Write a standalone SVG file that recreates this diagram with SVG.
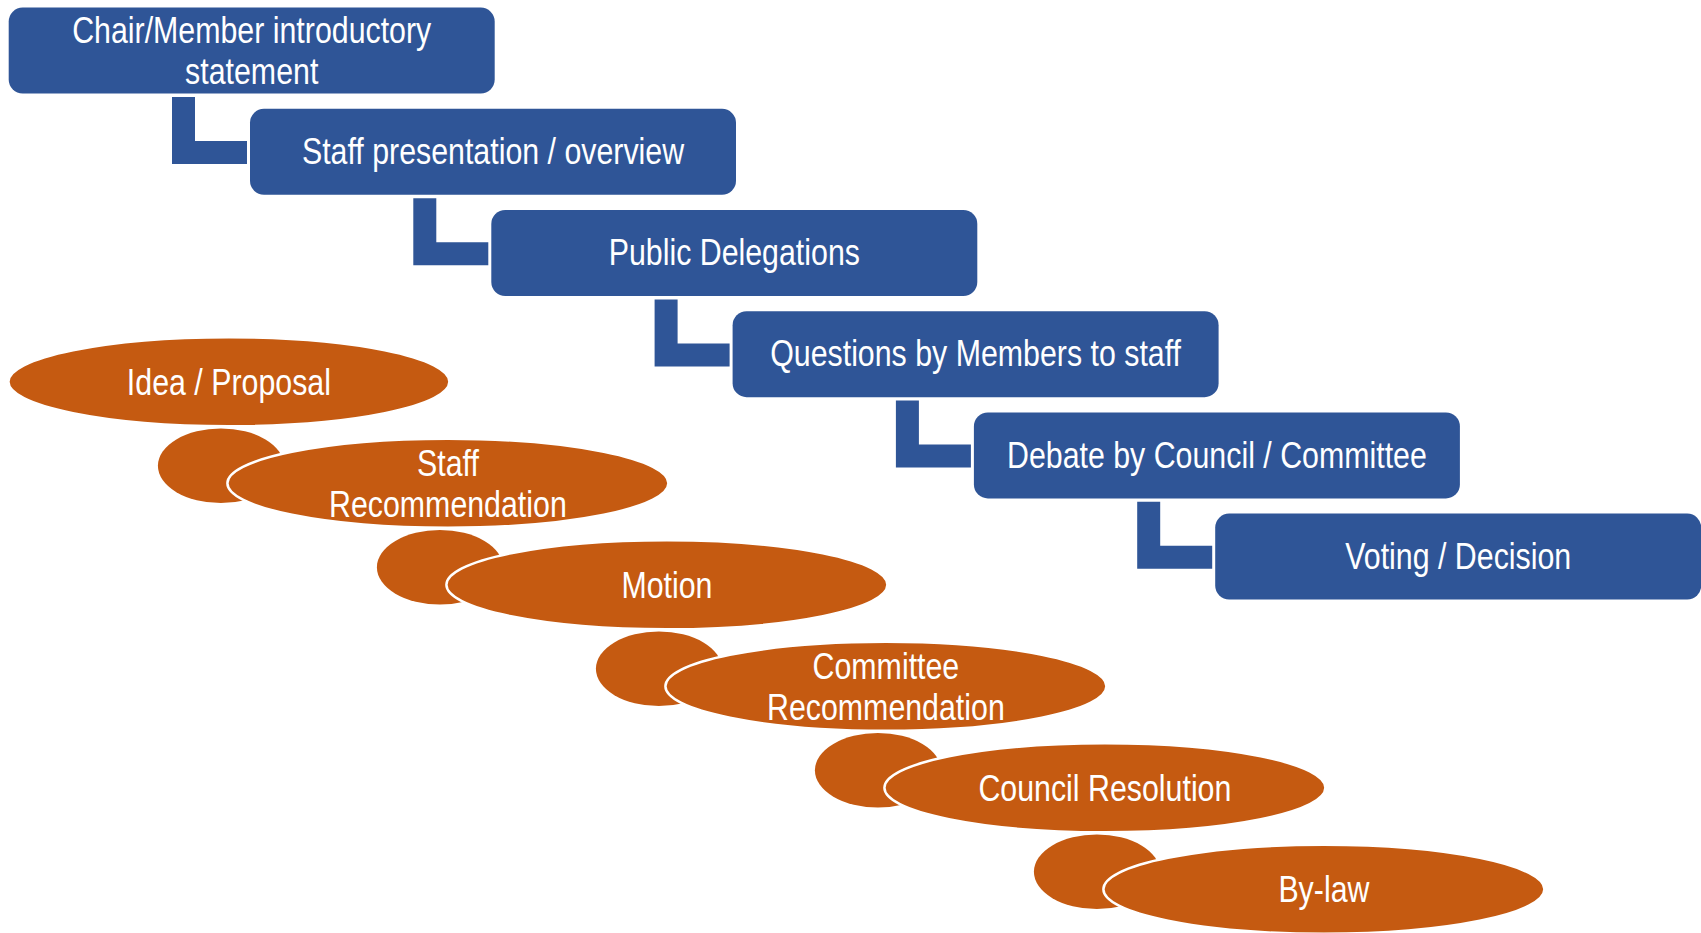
<svg xmlns="http://www.w3.org/2000/svg" width="1701" height="933" viewBox="0 0 1701 933">
<style>
.box{fill:#2F5597;}
.conn{fill:#2F5597;}
.ell{fill:#C55A11;stroke:#FFFFFF;stroke-width:2.5;}
.bub{fill:#C55A11;}
.t{font-family:"Liberation Sans",Arial,sans-serif;font-size:37px;fill:#FFFFFF;text-anchor:middle;}
</style>
<rect width="1701" height="933" fill="#FFFFFF"/>
<g id="connectors">
<path class="conn" d="M172,97 H195 V141 H247 V164 H172 Z"/>
<path class="conn" d="M413.3,198.2 H436.3 V242.2 H488.3 V265.2 H413.3 Z"/>
<path class="conn" d="M654.6,299.4 H677.6 V343.4 H729.6 V366.4 H654.6 Z"/>
<path class="conn" d="M895.9,400.6 H918.9 V444.6 H970.9 V467.6 H895.9 Z"/>
<path class="conn" d="M1137.2,501.8 H1160.2 V545.8 H1212.2 V568.8 H1137.2 Z"/>
</g>
<g id="box1"><rect class="box" x="8.7" y="7.6" width="486" height="86" rx="14"/><text class="t" transform="translate(251.7,43) scale(0.82,1)">Chair/Member introductory</text><text class="t" transform="translate(251.7,84) scale(0.82,1)">statement</text></g>
<g id="box2"><rect class="box" x="250" y="108.8" width="486" height="86" rx="14"/><text class="t" transform="translate(493,164) scale(0.82,1)">Staff presentation / overview</text></g>
<g id="box3"><rect class="box" x="491.3" y="210" width="486" height="86" rx="14"/><text class="t" transform="translate(734.3,265.2) scale(0.82,1)">Public Delegations</text></g>
<g id="box4"><rect class="box" x="732.6" y="311.2" width="486" height="86" rx="14"/><text class="t" transform="translate(975.6,366.4) scale(0.82,1)">Questions by Members to staff</text></g>
<g id="box5"><rect class="box" x="973.9" y="412.4" width="486" height="86" rx="14"/><text class="t" transform="translate(1216.9,467.6) scale(0.82,1)">Debate by Council / Committee</text></g>
<g id="box6"><rect class="box" x="1215.2" y="513.6" width="486" height="86" rx="14"/><text class="t" transform="translate(1458.2,568.8) scale(0.82,1)">Voting / Decision</text></g>
<g id="e1"><ellipse class="ell" cx="228.9" cy="381.8" rx="220.5" ry="44.5"/><text class="t" transform="translate(228.9,394.8) scale(0.82,1)">Idea / Proposal</text></g>
<g id="e2"><ellipse class="bub" cx="220.9" cy="465.8" rx="63" ry="37.3"/><ellipse class="ell" cx="447.9" cy="483.3" rx="220.5" ry="44.5"/><text class="t" transform="translate(447.9,475.8) scale(0.82,1)">Staff</text><text class="t" transform="translate(447.9,516.8) scale(0.82,1)">Recommendation</text></g>
<g id="e3"><ellipse class="bub" cx="439.9" cy="567.3" rx="63" ry="37.3"/><ellipse class="ell" cx="666.9" cy="584.8" rx="220.5" ry="44.5"/><text class="t" transform="translate(666.9,597.8) scale(0.82,1)">Motion</text></g>
<g id="e4"><ellipse class="bub" cx="658.9" cy="668.8" rx="63" ry="37.3"/><ellipse class="ell" cx="885.9" cy="686.3" rx="220.5" ry="44.5"/><text class="t" transform="translate(885.9,678.8) scale(0.82,1)">Committee</text><text class="t" transform="translate(885.9,719.8) scale(0.82,1)">Recommendation</text></g>
<g id="e5"><ellipse class="bub" cx="877.9" cy="770.3" rx="63" ry="37.3"/><ellipse class="ell" cx="1104.9" cy="787.8" rx="220.5" ry="44.5"/><text class="t" transform="translate(1104.9,800.8) scale(0.82,1)">Council Resolution</text></g>
<g id="e6"><ellipse class="bub" cx="1096.9" cy="871.8" rx="63" ry="37.3"/><ellipse class="ell" cx="1323.9" cy="889.3" rx="220.5" ry="44.5"/><text class="t" transform="translate(1323.9,902.3) scale(0.82,1)">By-law</text></g>
</svg>
